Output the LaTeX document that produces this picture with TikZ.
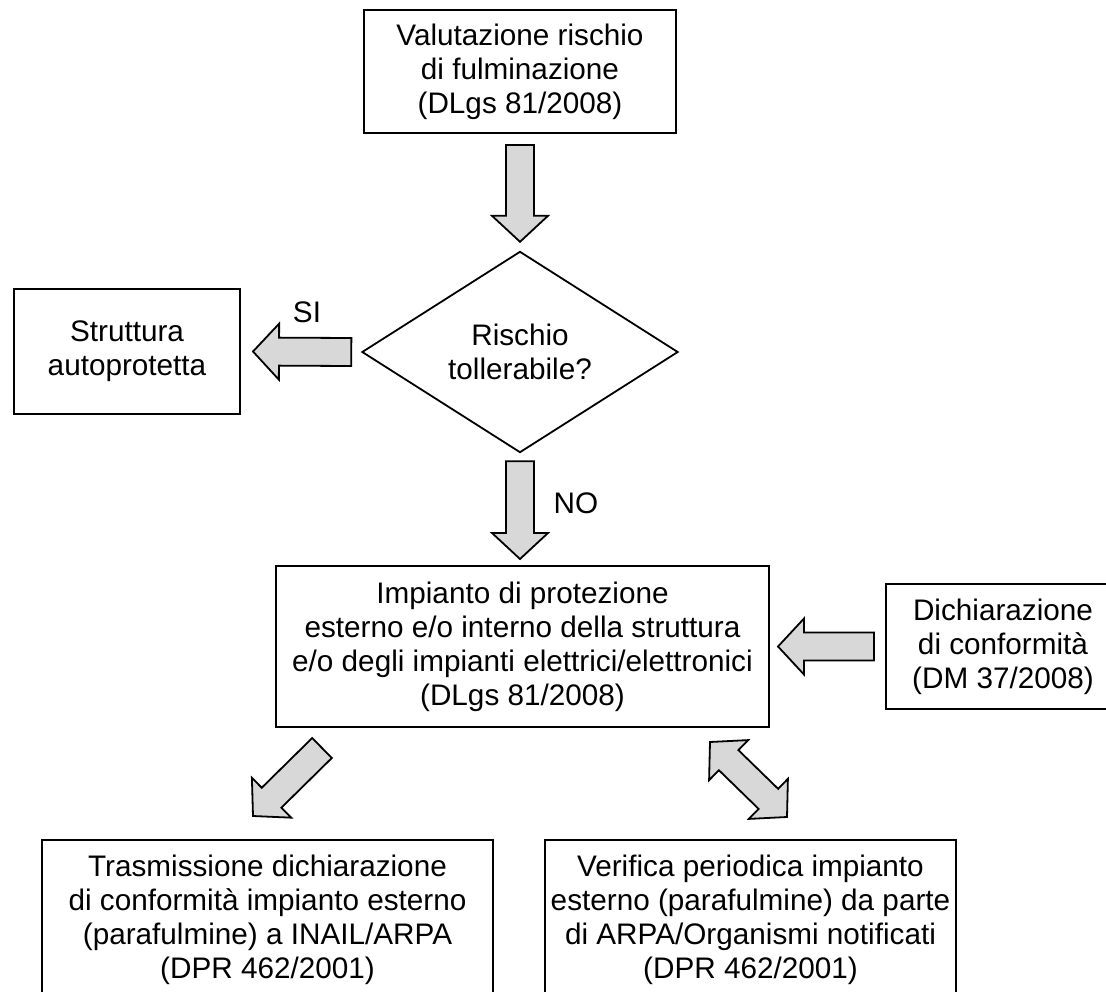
\documentclass[tikz,border=0pt]{standalone}
\usepackage{fontspec}
\setmainfont{Liberation Sans}
\usetikzlibrary{calc}
\definecolor{arrowgray}{RGB}{216,216,216}
\tikzset{
  box/.style={draw=black, line width=2pt, align=center, inner sep=0pt, font=\fontsize{29.7}{34}\selectfont},
  decbox/.style={draw=none, align=center, inner sep=0pt, font=\fontsize{29.7}{34}\selectfont},
  lbl/.style={font=\fontsize{29.7}{34}\selectfont, inner sep=0pt},
  barrow/.style={draw=black, fill=arrowgray, line width=1.8pt, line join=miter},
}
\newcommand\BlockArrowX[2]{%
  \path[barrow] let \p0=(#1), \p1=($(#2)-(#1)$), \n1={veclen(\x1,\y1)}, \n2={atan2(\y1,\x1)}, \n3={\n1-26pt}, \n4={\n2+90}, \n5={\n2-90} in
    ($(\p0)+(\n4:14pt)$) -- ($(\p0)+(\n2:\n3)+(\n4:14pt)$) -- ($(\p0)+(\n2:\n3)+(\n4:28pt)$) -- (#2)
    -- ($(\p0)+(\n2:\n3)+(\n5:28pt)$) -- ($(\p0)+(\n2:\n3)+(\n5:14pt)$) -- ($(\p0)+(\n5:14pt)$) -- cycle;}
\newcommand\DblBlockArrowX[2]{%
  \path[barrow] let \p0=(#1), \p1=($(#2)-(#1)$), \n1={veclen(\x1,\y1)}, \n2={atan2(\y1,\x1)}, \n3={\n1-26pt}, \n4={\n2+90}, \n5={\n2-90} in
    (#1) -- ($(\p0)+(\n2:26pt)+(\n4:28pt)$) -- ($(\p0)+(\n2:26pt)+(\n4:14pt)$) -- ($(\p0)+(\n2:\n3)+(\n4:14pt)$) -- ($(\p0)+(\n2:\n3)+(\n4:28pt)$) -- (#2)
    -- ($(\p0)+(\n2:\n3)+(\n5:28pt)$) -- ($(\p0)+(\n2:\n3)+(\n5:14pt)$) -- ($(\p0)+(\n2:26pt)+(\n5:14pt)$) -- ($(\p0)+(\n2:26pt)+(\n5:28pt)$) -- cycle;}
\begin{document}
\begin{tikzpicture}[x=1pt,y=-1pt]
\useasboundingbox (0,0) rectangle (1106,991);
% nodes
\node[box, minimum width=312pt, minimum height=123pt] (top) at (520,71.5) {Valutazione rischio\\di fulminazione\\(DLgs 81/2008)};
\node[decbox, minimum width=315pt, minimum height=200pt] (dec) at (520,352) {Rischio\\tollerabile?};
\draw[line width=1.8pt, line join=miter] (dec.north) -- (dec.east) -- (dec.south) -- (dec.west) -- cycle;
\node[box, minimum width=226pt, minimum height=125pt] (left) at (127,351.5) {Struttura\\autoprotetta};
\node[box, minimum width=493pt, minimum height=161pt] (mid) at (522.5,646.5) {Impianto di protezione\\esterno e/o interno della struttura\\e/o degli impianti elettrici/elettronici\\(DLgs 81/2008)};
\node[box, minimum width=234pt, minimum height=125pt] (dc) at (1003,646.5) {Dichiarazione\\di conformità\\(DM 37/2008)};
\node[box, minimum width=451pt, minimum height=160pt] (lb) at (267.5,920) {Trasmissione dichiarazione\\di conformità impianto esterno\\(parafulmine) a INAIL/ARPA\\(DPR 462/2001)};
\node[box, minimum width=411pt, minimum height=160pt] (rb) at (750.5,920) {Verifica periodica impianto\\esterno (parafulmine) da parte\\di ARPA/Organismi notificati\\(DPR 462/2001)};
% connector end points
\coordinate (a1s) at ([yshift=-11pt]top.south);
\coordinate (a1e) at ([yshift=10pt]dec.north);
\coordinate (sis) at ([xshift=-11pt]dec.west);
\coordinate (sie) at ([xshift=12pt]left.east);
\coordinate (nos) at ([yshift=-9pt]dec.south);
\coordinate (noe) at ($(dec.south |- mid.north)+(0pt,6pt)$);
\coordinate (dcs) at ([xshift=-11pt]dc.west);
\coordinate (dce) at ([xshift=8pt]mid.east);
\coordinate (lbs) at ($(mid.south west)+(47pt,-20pt)$);
\coordinate (lbe) at ($(lb.north)+(-14.5pt,23pt)$);
\coordinate (rbs) at ($(mid.south east)+(-60pt,-14pt)$);
\coordinate (rbe) at ($(rb.north)+(36.5pt,22pt)$);
% block arrows
\BlockArrowX{a1s}{a1e}
\BlockArrowX{sis}{sie}
\BlockArrowX{nos}{noe}
\BlockArrowX{dcs}{dce}
\BlockArrowX{lbs}{lbe}
\DblBlockArrowX{rbs}{rbe}
% labels
\node[lbl] (si) at (307,312) {SI};
\node[lbl] (no) at (576,503) {NO};
\end{tikzpicture}
\end{document}
